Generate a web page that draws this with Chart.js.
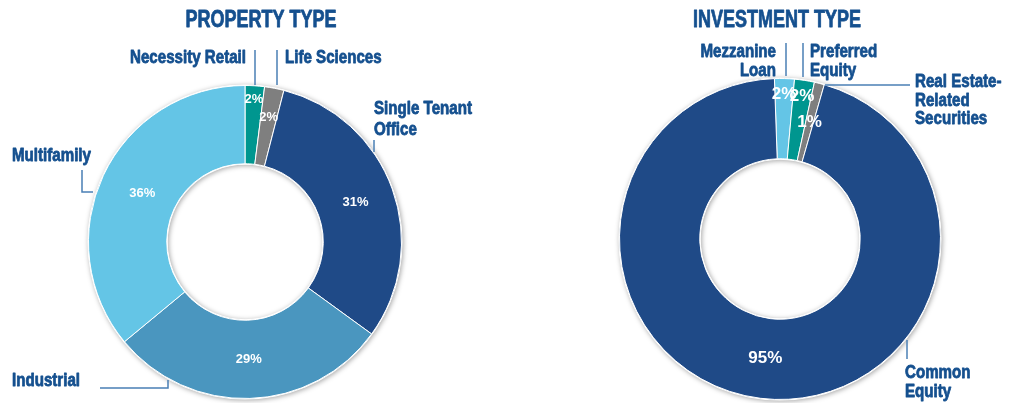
<!DOCTYPE html>
<html>
<head>
<meta charset="utf-8">
<script src="https://cdn.jsdelivr.net/npm/chart.js@4.4.1/dist/chart.umd.min.js"></script>
<style>
    html, body { margin: 0; padding: 0; background: #fff; }
    #wrap { display: flex; width: 1016px; height: 403px; }
    .box { position: relative; width: 508px; height: 403px; }
</style>
</head>
<body>
<div id="wrap">
    <div class="box"><canvas id="property-chart"></canvas></div>
    <div class="box"><canvas id="investment-chart"></canvas></div>
</div>
<script>
// Data
const propertyLabels = ['Necessity Retail', 'Life Sciences', 'Single Tenant Office', 'Industrial', 'Multifamily'];
const propertyValues = [2, 2, 31, 29, 36];
const propertyColors = ['#00968f', '#7f7f7f', '#1f4a87', '#4a96bf', '#64c5e6'];

const investmentLabels = ['Mezzanine Loan', 'Preferred Equity', 'Real Estate-Related Securities', 'Common Equity'];
const investmentValues = [2, 2, 1, 95];
const investmentColors = ['#64c5e6', '#00968f', '#7f7f7f', '#1f4a87'];

const TEXT_BLUE = '#15508f';
const LINE_BLUE = '#4a7fb5';
const FONT = '"Liberation Sans", Arial, sans-serif';

// condensed look: squeeze bold text horizontally, stroke a bit for weight
function narrowText(ctx, text, x, y, align, sx) {
    ctx.save();
    ctx.translate(x, y);
    ctx.scale(sx, 1);
    ctx.textAlign = align;
    ctx.lineWidth = 0.8;
    ctx.lineJoin = 'round';
    ctx.strokeStyle = ctx.fillStyle;
    ctx.fillText(text, 0, 0);
    ctx.strokeText(text, 0, 0);
    ctx.restore();
}

// Draws ring shadow, percent labels, title and callouts with leader lines
const donutDecor = {
    id: 'donutDecor',
    beforeDatasetsDraw(chart) {
        const arc = chart.getDatasetMeta(0).data[0];
        if (!arc) return;
        const { x, y, outerRadius, innerRadius } = arc.getProps(['x', 'y', 'outerRadius', 'innerRadius'], true);
        const ctx = chart.ctx;
        ctx.save();
        ctx.shadowColor = 'rgba(0,0,0,0.35)';
        ctx.shadowBlur = 5;
        ctx.shadowOffsetX = 1;
        ctx.shadowOffsetY = 1;
        ctx.fillStyle = '#fff';
        ctx.beginPath();
        ctx.arc(x, y, outerRadius + 1, 0, Math.PI * 2);
        ctx.arc(x, y, innerRadius - 1, 0, Math.PI * 2, true);
        ctx.fill('evenodd');
        ctx.restore();
    },
    afterDatasetsDraw(chart, args, opts) {
        const ctx = chart.ctx;
        const meta = chart.getDatasetMeta(0);
        const values = chart.data.datasets[0].data;
        const first = meta.data[0];
        const cx = first.x, cy = first.y;

        // percent labels
        ctx.save();
        ctx.fillStyle = '#fff';
        ctx.textAlign = 'center';
        ctx.textBaseline = 'middle';
        ctx.font = `bold ${opts.pctSize}px ${FONT}`;
        meta.data.forEach((el, i) => {
            const p = el.getProps(['startAngle', 'endAngle', 'innerRadius', 'outerRadius'], true);
            const mid = (p.startAngle + p.endAngle) / 2;
            const f = opts.pctRadius[i];
            const r = p.innerRadius + (p.outerRadius - p.innerRadius) * f;
            ctx.fillText(values[i] + '%', cx + Math.cos(mid) * r, cy + Math.sin(mid) * r);
        });
        ctx.restore();

        // title
        ctx.save();
        ctx.fillStyle = TEXT_BLUE;
        ctx.textBaseline = 'alphabetic';
        ctx.font = `bold 24px ${FONT}`;
        narrowText(ctx, opts.title, cx + opts.titleDx, cy + opts.titleDy, 'center', 0.75);
        ctx.restore();

        // callouts
        opts.callouts.forEach(c => {
            ctx.save();
            ctx.strokeStyle = LINE_BLUE;
            ctx.lineWidth = 1.5;
            ctx.beginPath();
            c.line.forEach((pt, k) => {
                if (k === 0) ctx.moveTo(cx + pt[0], cy + pt[1]);
                else ctx.lineTo(cx + pt[0], cy + pt[1]);
            });
            ctx.stroke();
            ctx.fillStyle = TEXT_BLUE;
            ctx.font = `bold 18px ${FONT}`;
            ctx.textBaseline = 'alphabetic';
            c.text.forEach((t, k) => {
                narrowText(ctx, t, cx + c.dx, cy + c.dy + k * c.lh, c.align, 0.84);
            });
            ctx.restore();
        });
    }
};

function makeDonut(id, labels, values, colors, padding, rotation, decor) {
    const ctx = document.getElementById(id);
    return new Chart(ctx, {
        type: 'doughnut',
        data: {
            labels: labels,
            datasets: [{
                data: values,
                backgroundColor: colors,
                borderColor: '#ffffff',
                borderWidth: 1
            }]
        },
        options: {
            responsive: false,
            animation: false,
            cutout: '50%',
            rotation: rotation,
            layout: { padding: padding },
            plugins: {
                legend: { display: false },
                tooltip: { enabled: false },
                donutDecor: decor
            }
        },
        plugins: [donutDecor]
    });
}

// Init
function initCharts() {
    ['property-chart', 'investment-chart'].forEach(id => {
        const c = document.getElementById(id);
        c.width = 508;
        c.height = 403;
    });

    makeDonut('property-chart', propertyLabels, propertyValues, propertyColors,
        { left: 88, top: 85, right: 106, bottom: 4 }, 0, {
            title: 'PROPERTY TYPE', titleDx: 16, titleDy: -215,
            pctSize: 13,
            pctRadius: [0.82, 0.62, 0.5, 0.5, 0.45],
            callouts: [
                { text: ['Necessity Retail'], align: 'right', dx: 1, dy: -179, lh: 21,
                  line: [[10, -192], [10, -157]] },
                { text: ['Life Sciences'], align: 'left', dx: 40, dy: -179, lh: 21,
                  line: [[32, -192], [32, -157]] },
                { text: ['Single Tenant', 'Office'], align: 'left', dx: 129, dy: -128, lh: 21,
                  line: [[129, -102], [129, -90]] },
                { text: ['Multifamily'], align: 'left', dx: -233, dy: -81, lh: 21,
                  line: [[-163, -72], [-163, -50], [-152, -50]] },
                { text: ['Industrial'], align: 'left', dx: -233, dy: 144, lh: 21,
                  line: [[-145, 146], [-77, 146], [-77, 138]] }
            ]
        });

    makeDonut('investment-chart', investmentLabels, investmentValues, investmentColors,
        { left: 111, top: 78, right: 75, bottom: 3 }, -2, {
            title: 'INVESTMENT TYPE', titleDx: -3, titleDy: -212,
            pctSize: 17,
            pctRadius: [0.8, 0.8, 0.5, 0.5],
            callouts: [
                { text: ['Mezzanine', 'Loan'], align: 'right', dx: -4, dy: -182, lh: 19,
                  line: [[6, -196], [6, -163]] },
                { text: ['Preferred', 'Equity'], align: 'left', dx: 30, dy: -182, lh: 19,
                  line: [[23, -196], [23, -162]] },
                { text: ['Real Estate-', 'Related', 'Securities'], align: 'left', dx: 135, dy: -152, lh: 18.5,
                  line: [[45, -154], [130, -154]] },
                { text: ['Common', 'Equity'], align: 'left', dx: 125, dy: 139, lh: 19,
                  line: [[127, 101], [127, 120]] }
            ]
        });
}
document.addEventListener('DOMContentLoaded', initCharts);
</script>
</body>
</html>
